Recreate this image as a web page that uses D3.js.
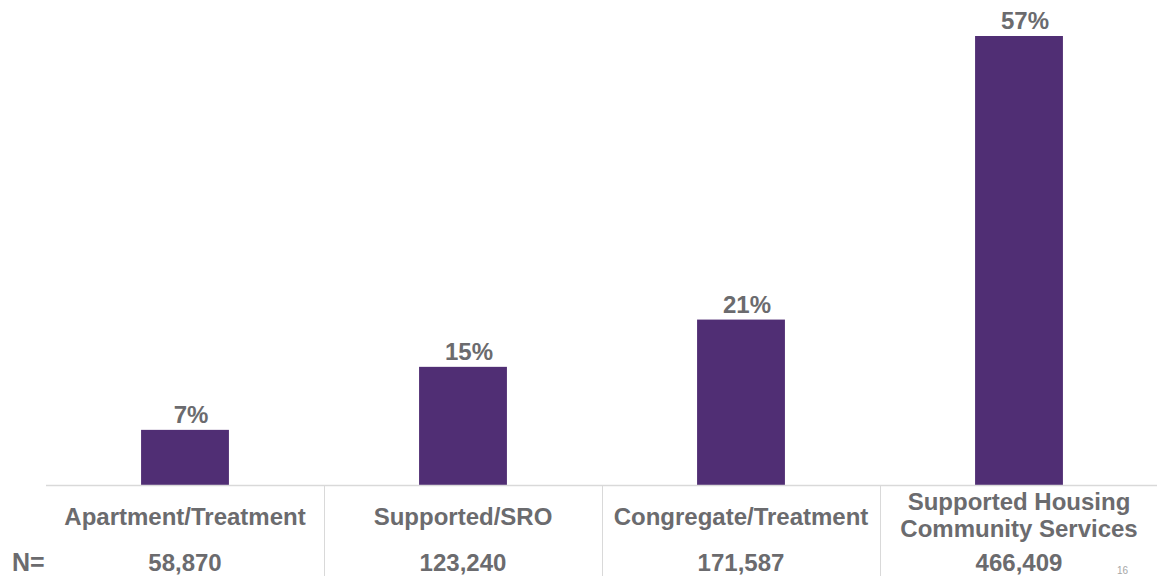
<!DOCTYPE html>
<html>
<head>
<meta charset="utf-8">
<script src="https://cdn.jsdelivr.net/npm/d3@7"></script>
<style>
  body { margin: 0; background: #fff; }
  svg text { font-family: "Liberation Sans", Arial, sans-serif; font-weight: bold; fill: #6b6b6e; }
</style>
</head>
<body>
<div id="chart"></div>
<script>
// data
var categories = [["Apartment/Treatment"], ["Supported/SRO"], ["Congregate/Treatment"], ["Supported Housing", "Community Services"]];
var percents = [7, 15, 21, 57];
var counts = ["58,870", "123,240", "171,587", "466,409"];

var width = 1157, height = 576;
var svg = d3.select('#chart').append('svg')
    .attr('width', width)
    .attr('height', height);

var baseY = 485;
var x = d3.scaleBand()
    .domain(d3.range(categories.length))
    .range([46, 1158])
    .paddingInner(0.684)
    .paddingOuter(0.342);

var slot = d3.scaleBand()
    .domain(d3.range(categories.length))
    .range([46, 1158]);

var y = d3.scaleLinear()
    .domain([0, 57])
    .range([baseY, 36]);

// bars
svg.selectAll('rect.bar')
    .data(percents)
    .enter()
    .append('rect')
    .attr('class', 'bar')
    .attr('x', function(d, i) { return x(i); })
    .attr('y', function(d) { return y(d); })
    .attr('width', x.bandwidth())
    .attr('height', function(d) { return baseY - y(d); })
    .attr('fill', '#502e74');

// value labels (sit a little right of the bar centre, like the slide)
svg.selectAll('text.val')
    .data(percents)
    .enter()
    .append('text')
    .attr('class', 'val')
    .attr('x', function(d, i) { return x(i) + x.bandwidth() / 2 + 6; })
    .attr('y', function(d) { return y(d) - 7; })
    .attr('text-anchor', 'middle')
    .style('font-size', '24px')
    .text(function(d) { return d + '%'; });

// baseline + separators
svg.append('line')
    .attr('x1', 46).attr('x2', width)
    .attr('y1', baseY + 0.5).attr('y2', baseY + 0.5)
    .attr('stroke', '#d9d9d9').attr('stroke-width', 1.5);

svg.selectAll('line.sep')
    .data(d3.range(1, categories.length))
    .enter()
    .append('line')
    .attr('class', 'sep')
    .attr('x1', function(i) { return slot(i) + 0.5; })
    .attr('x2', function(i) { return slot(i) + 0.5; })
    .attr('y1', baseY).attr('y2', height)
    .attr('stroke', '#d9d9d9').attr('stroke-width', 1);

// category labels
var cat = svg.selectAll('text.cat')
    .data(categories)
    .enter()
    .append('text')
    .attr('class', 'cat')
    .attr('text-anchor', 'middle')
    .style('font-size', '24px')
    .attr('transform', function(d, i) {
        var cy = d.length > 1 ? 510 : 525;
        return 'translate(' + (slot(i) + slot.bandwidth() / 2) + ',' + cy + ')';
    });

cat.selectAll('tspan')
    .data(function(d) { return d; })
    .enter()
    .append('tspan')
    .attr('x', 0)
    .attr('dy', function(d, j) { return j === 0 ? 0 : 27; })
    .text(function(d) { return d; });

// N row
svg.append('text')
    .attr('x', 12).attr('y', 571)
    .style('font-size', '25px')
    .text('N=');

svg.selectAll('text.n')
    .data(counts)
    .enter()
    .append('text')
    .attr('class', 'n')
    .attr('x', function(d, i) { return slot(i) + slot.bandwidth() / 2; })
    .attr('y', 571)
    .attr('text-anchor', 'middle')
    .style('font-size', '24px')
    .text(function(d) { return d; });

// slide number in the corner
svg.append('text')
    .attr('x', 1117).attr('y', 574)
    .style('font-size', '10px')
    .style('font-weight', 'normal')
    .style('fill', '#a6a6a6')
    .text('16');
</script>
</body>
</html>
